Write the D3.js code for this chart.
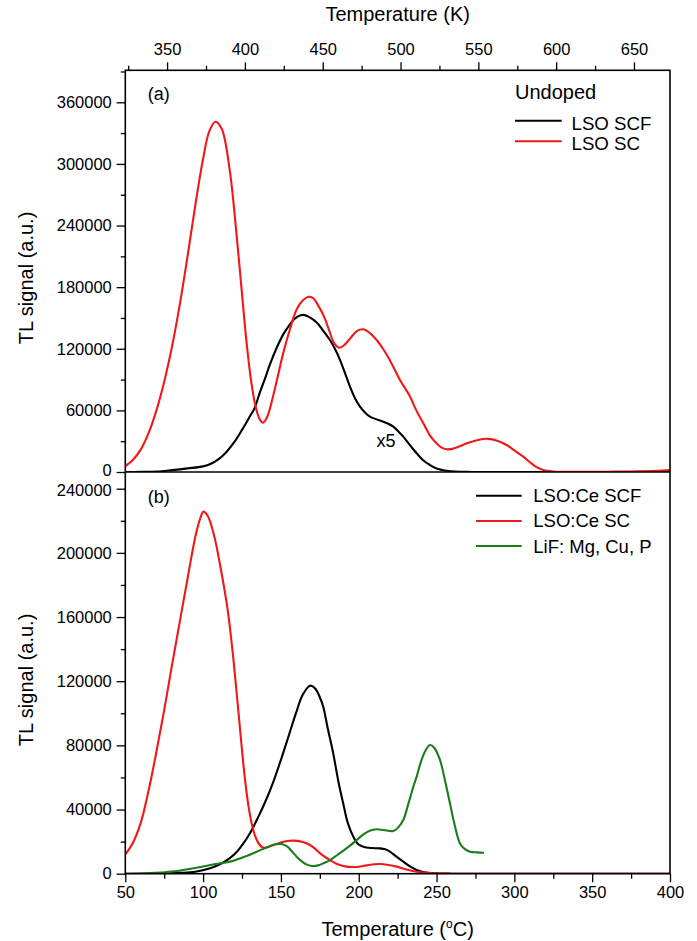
<!DOCTYPE html>
<html><head><meta charset="utf-8">
<script src="https://cdn.jsdelivr.net/npm/d3@7"></script>
<style>
html,body{margin:0;padding:0;background:#fff;}
text{font-family:"Liberation Sans",Arial,Helvetica,sans-serif;fill:#000;}
</style></head>
<body>
<svg id="chart" width="697" height="941"></svg>
<script>
// ---------------- data (Temperature °C, TL signal) ----------------
const undopedSCF = [[50,0],[60,100],[70,400],[80,1800],[90,3500],[100,5500],[105,8000],[110,12500],[115,19500],[120,29000],[125,41000],[130,54000],[133,62000],[136.6,78000],[140,92000],[143,105000],[147,120000],[151.5,134000],[155,142000],[158,148000],[161,151500],[164.4,153000],[168,151000],[173,145500],[177,138000],[181.5,128500],[185,119000],[188,109000],[191,97000],[194.4,83000],[197.5,72000],[200.8,63600],[204,58000],[207.2,54000],[211,51500],[215.8,49000],[219,47000],[222.2,44100],[225.5,39500],[228.6,34400],[233,26000],[237.2,18200],[241,12000],[245.8,6800],[250,3500],[256.5,1300],[262,400],[270,100],[280,0],[400,0]];
const undopedSC = [[50,5800],[55,12000],[60,22000],[65,38000],[70,60000],[75,88000],[80,122000],[85,163000],[90,210000],[95,260000],[100,305000],[104,332000],[108,341000],[112,334000],[117,295000],[120,255000],[124,190000],[128,125000],[131,87000],[134,62000],[136.5,51000],[138.5,48000],[141,53000],[144,68000],[147.5,90000],[151.5,116000],[156,140000],[160,158000],[164,167000],[168,170700],[171,169000],[174,162000],[177.5,152000],[181,138000],[184,126000],[187.5,121000],[191,124000],[195,131000],[199,137500],[203,139000],[207,135500],[211.5,128500],[216,119000],[221,106000],[226.5,89600],[233,73300],[237,60000],[241.5,47400],[246,35000],[250,28000],[253,24000],[256.5,22100],[260,22500],[264,24500],[269.5,28000],[276,31000],[283,32300],[289,30500],[295,26300],[300,21000],[305.7,14900],[310,9500],[314,5000],[318.6,1900],[325,500],[335,100],[360,300],[380,600],[395,1300],[400,1800]];
const ceSCF = [[50,0],[70,100],[85,500],[95,1200],[105,3500],[112,6500],[117,9500],[122,14000],[126,19000],[130,25000],[135,34500],[140,45000],[145,57000],[150,71000],[155,86000],[160,101000],[164,111500],[168.7,117200],[172,115500],[175,110000],[177.2,104100],[180,91000],[183.6,75000],[187,57000],[190,43900],[193,31500],[196.5,23100],[199.5,18500],[202.9,16800],[208,16000],[213.7,15800],[217,15200],[220,13700],[224,10800],[228.6,7500],[233,4500],[237.2,2300],[242,900],[250,200],[260,0],[400,0]];
const ceSC = [[50,12000],[55,19500],[60,32000],[65,52000],[70,76000],[75,102000],[80,130000],[85,157000],[90,184000],[95,210000],[98,221000],[100.2,225700],[103,223000],[107,211000],[111,192000],[115.7,165000],[119,138000],[122,108000],[124.5,82000],[127,58000],[129.5,40000],[132,28000],[135,20000],[138,16500],[141,16300],[145,17900],[150,19500],[154,20400],[159,20600],[164,19800],[168.7,17900],[172,15500],[176,12000],[181.5,8500],[186,6000],[192,4400],[198,4200],[205,5200],[210,5900],[214,6000],[219,5400],[224.4,4400],[230,2800],[237.2,1200],[243,500],[250,200],[260,0],[300,0],[400,0]];
const lifMgCuP = [[50,0],[60,100],[70,500],[80,1300],[90,2800],[100,4500],[108,6000],[117,7500],[125,10000],[134.4,13700],[141,16500],[146,18200],[150.5,18500],[154,17000],[157,14000],[160.1,10600],[163,8000],[166,6000],[169.8,4800],[174,5200],[178,6800],[181.5,8500],[186,11500],[191,15000],[195,18000],[198.7,21000],[203,24500],[207,26800],[211.5,27700],[216,27200],[222.2,26600],[225,28500],[228.6,33500],[232,44000],[235,54000],[237.2,60500],[240,70000],[243,77000],[245.8,80200],[248.5,78500],[252.2,70900],[255,60000],[258.6,43900],[261.5,31000],[265,19000],[268,15500],[271.5,13700],[276,13300],[280.5,13100]];

const xTicksC = [50,100,150,200,250,300,350,400];
const xTicksK = [350,400,450,500,550,600,650];
const yTicksA = [0,60000,120000,180000,240000,300000,360000];
const yTicksB = [0,40000,80000,120000,160000,200000,240000];
const legendA = ["LSO SCF","LSO SC"];
const legendB = ["LSO:Ce SCF","LSO:Ce SC","LiF: Mg, Cu, P"];
const colors = {black:"#000000", red:"#f01818", green:"#1a7d1a"};

// ---------------- layout ----------------
const L=125.3, R=670, T=70.3, M=472, B=873.7;
const svg = d3.select("#chart");
const x = d3.scaleLinear().domain([50,400]).range([L,R]);
const xK = d3.scaleLinear().domain([50+273.15,400+273.15]).range([L,R]);
const yA = d3.scaleLinear().domain([0,360000]).range([M,102.3]);
const yB = d3.scaleLinear().domain([0,240000]).range([B,488.7]);

function drawAxis(g){ g.select(".domain").remove(); g.selectAll("line").attr("stroke","#000").attr("stroke-width",1.3); g.selectAll("text").style("font-size","16.5px").style("font-family","'Liberation Sans',Arial,sans-serif"); }

// bottom axis
svg.append("g").attr("transform",`translate(0,${B})`)
  .call(d3.axisBottom(x).tickValues(d3.range(75,400,50)).tickSize(5).tickFormat(""))
  .call(drawAxis);
svg.append("g").attr("transform",`translate(0,${B})`)
  .call(d3.axisBottom(x).tickValues(xTicksC).tickSize(8.5).tickPadding(4.5).tickFormat(d3.format("d")))
  .call(drawAxis);
// top axis (K)
svg.append("g").attr("transform",`translate(0,${T})`)
  .call(d3.axisTop(xK).tickValues(d3.range(325,675,50)).tickSize(4.5).tickFormat(""))
  .call(drawAxis);
svg.append("g").attr("transform",`translate(0,${T})`)
  .call(d3.axisTop(xK).tickValues(xTicksK).tickSize(8).tickPadding(7).tickFormat(d3.format("d")))
  .call(drawAxis);
// left axes
svg.append("g").attr("transform",`translate(${L},0)`)
  .call(d3.axisLeft(yA).tickValues(d3.range(30000,391000,60000)).tickSize(4.5).tickFormat(""))
  .call(drawAxis);
const axA = svg.append("g").attr("transform",`translate(${L},0)`)
  .call(d3.axisLeft(yA).tickValues(yTicksA).tickSize(8.7).tickPadding(4.8).tickFormat(d3.format("d")))
  .call(drawAxis);
axA.selectAll(".tick").filter(d=>d===0).select("text").attr("y",-1.5);
svg.append("g").attr("transform",`translate(${L},0)`)
  .call(d3.axisLeft(yB).tickValues(d3.range(20000,250000,40000)).tickSize(4.5).tickFormat(""))
  .call(drawAxis);
const axB = svg.append("g").attr("transform",`translate(${L},0)`)
  .call(d3.axisLeft(yB).tickValues(yTicksB).tickSize(8.7).tickPadding(4.8).tickFormat(d3.format("d")))
  .call(drawAxis);
axB.selectAll(".tick").filter(d=>d===240000).select("text").attr("y",1.5);

// curves
svg.append("clipPath").attr("id","ca").append("rect").attr("x",L).attr("y",T).attr("width",R-L).attr("height",M-T);
svg.append("clipPath").attr("id","cb").append("rect").attr("x",L).attr("y",M).attr("width",R-L).attr("height",B-M);
function curve(data, y, color, clip){
  const line = d3.line().x(d=>x(d[0])).y(d=>y(d[1])).curve(d3.curveCatmullRom.alpha(0.5));
  svg.append("path").attr("d",line(data)).attr("fill","none").attr("stroke",color)
    .attr("stroke-width",2.1).attr("stroke-linejoin","round").attr("clip-path",`url(#${clip})`);
}
curve(undopedSCF, yA, colors.black, "ca");
curve(undopedSC, yA, colors.red, "ca");
curve(ceSCF, yB, colors.black, "cb");
curve(ceSC, yB, colors.red, "cb");
curve(lifMgCuP, yB, colors.green, "cb");

// frame
svg.append("rect").attr("x",L).attr("y",T).attr("width",R-L).attr("height",B-T)
  .attr("fill","none").attr("stroke","#000").attr("stroke-width",1.6);
svg.append("line").attr("x1",L).attr("x2",R).attr("y1",M).attr("y2",M).attr("stroke","#000").attr("stroke-width",1.6);

// titles
svg.append("text").attr("x",(L+R)/2).attr("y",21).attr("text-anchor","middle").style("font-size","20px").text("Temperature (K)");
const xt = svg.append("text").attr("x",(L+R)/2).attr("y",936).attr("text-anchor","middle").style("font-size","20px");
xt.append("tspan").text("Temperature (");
xt.append("tspan").attr("dy",-8).style("font-size","12px").text("o");
xt.append("tspan").attr("dy",8).text("C)");
[278,680].forEach(cy=>{
  svg.append("text").attr("transform",`translate(33,${cy}) rotate(-90)`).attr("text-anchor","middle").style("font-size","20px").text("TL signal (a.u.)");
});

// annotations
svg.append("text").attr("x",147.7).attr("y",100).style("font-size","18px").text("(a)");
svg.append("text").attr("x",147.7).attr("y",503).style("font-size","18px").text("(b)");
svg.append("text").attr("x",376.5).attr("y",446.5).style("font-size","18px").text("x5");

// legend A
svg.append("text").attr("x",515).attr("y",99).style("font-size","20px").text("Undoped");
const legAcol=[colors.black,colors.red];
legendA.forEach((t,i)=>{
  const yy = 120.7 + i*20.5;
  svg.append("line").attr("x1",515).attr("x2",561.7).attr("y1",yy).attr("y2",yy).attr("stroke",legAcol[i]).attr("stroke-width",2);
  svg.append("text").attr("x",571.5).attr("y",yy+2.7+ i*0.3).style("font-size","18.7px").attr("dy","0.33em").text(t);
});
// legend B
const legBcol=[colors.black,colors.red,colors.green];
legendB.forEach((t,i)=>{
  const yy = 495.7 + i*25.2;
  svg.append("line").attr("x1",476).attr("x2",521.7).attr("y1",yy).attr("y2",yy).attr("stroke",legBcol[i]).attr("stroke-width",2);
  svg.append("text").attr("x",533.3).attr("y",yy).style("font-size","18.5px").attr("dy","0.35em").text(t);
});
</script>
</body></html>
